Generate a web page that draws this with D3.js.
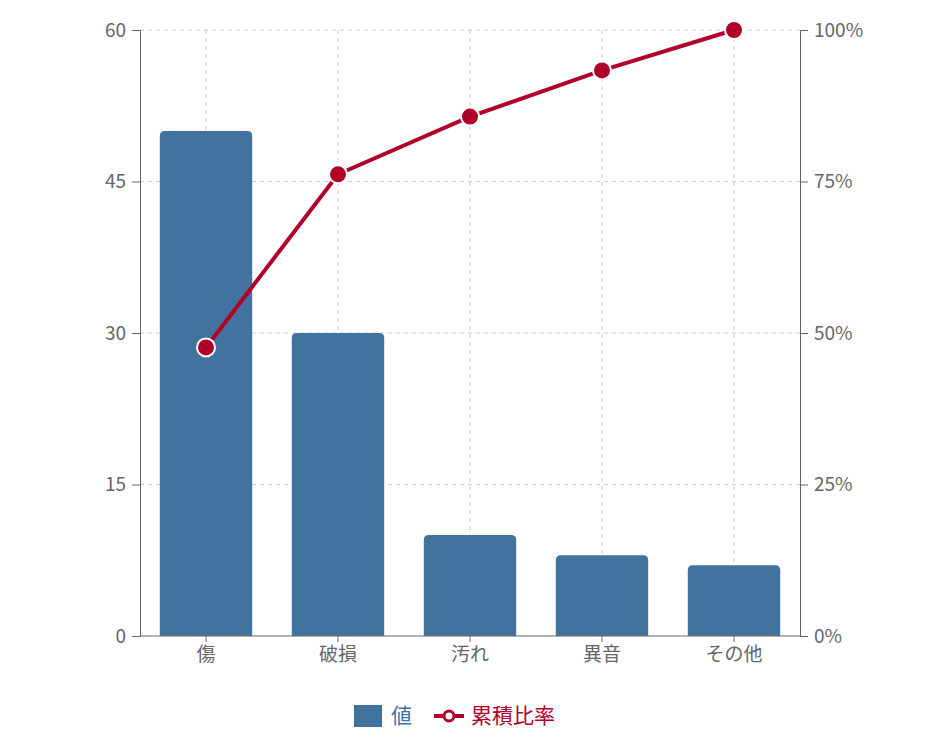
<!DOCTYPE html>
<html><head><meta charset="utf-8">
<script src="https://cdn.jsdelivr.net/npm/d3@7"></script>
<style>body{margin:0;background:#fff;font-family:"Noto Sans CJK JP","Noto Sans",sans-serif}</style>
</head><body><svg id="c" width="940" height="752"></svg>
<script>
var categories = ['傷','破損','汚れ','異音','その他'];
var values = [50, 30, 10, 8, 7];
var leftTicks = [0, 15, 30, 45, 60];
var rightTicks = [0, 25, 50, 75, 100];

var total = d3.sum(values), run = 0;
var cumulative = values.map(function(v){ run += v; return run / total * 100; });

var m = {l:140, r:800, t:30, b:636};
var svg = d3.select('#c');
var x = d3.scaleBand().domain(categories).range([m.l, m.r]).paddingInner(0.3).paddingOuter(0.15);
var y = d3.scaleLinear().domain([0, 60]).range([m.b, m.t]);
var y2 = d3.scaleLinear().domain([0, 100]).range([m.b, m.t]);
var barCol = '#41739e', lineCol = '#b0002a', axCol = '#666';

// grid
svg.append('g').selectAll('line').data(leftTicks.slice(1)).enter().append('line')
  .attr('x1', m.l).attr('x2', m.r).attr('y1', d => y(d)).attr('y2', d => y(d))
  .attr('stroke', '#ccc').attr('stroke-dasharray', '4,4');
svg.append('g').selectAll('line').data(categories).enter().append('line')
  .attr('x1', d => x(d) + x.bandwidth()/2).attr('x2', d => x(d) + x.bandwidth()/2)
  .attr('y1', m.t).attr('y2', m.b)
  .attr('stroke', '#ccc').attr('stroke-dasharray', '4,4');

// bars with rounded tops
var r = 5;
svg.append('g').selectAll('path').data(values).enter().append('path')
  .attr('fill', barCol)
  .attr('d', function(d, i){
    var x0 = x(categories[i]), w = x.bandwidth(), yt = y(d), yb = y(0);
    return 'M'+x0+','+yb+'V'+(yt+r)+'Q'+x0+','+yt+' '+(x0+r)+','+yt+'H'+(x0+w-r)+
      'Q'+(x0+w)+','+yt+' '+(x0+w)+','+(yt+r)+'V'+yb+'Z';
  });

// axes
function style(g){
  g.selectAll('path,line').attr('stroke', axCol);
  g.selectAll('text').attr('fill', '#666').style('font-size', '19px')
    .style('font-family', '"Noto Sans CJK JP","Noto Sans",sans-serif');
}
svg.append('g').attr('transform', 'translate('+m.l+',0)')
  .call(d3.axisLeft(y).tickValues(leftTicks).tickSize(8).tickPadding(6)).call(style);
svg.append('g').attr('transform', 'translate('+m.r+',0)')
  .call(d3.axisRight(y2).tickValues(rightTicks).tickSize(8).tickPadding(6).tickFormat(d => d + '%')).call(style);
svg.append('g').attr('transform', 'translate(0,'+m.b+')')
  .call(d3.axisBottom(x).tickSize(6).tickPadding(6)).call(style)
  .selectAll('.domain').attr('d', 'M'+m.l+',0H'+m.r);

// line
var line = d3.line().x((d, i) => x(categories[i]) + x.bandwidth()/2).y(d => y2(d));
svg.append('path').datum(cumulative).attr('d', line)
  .attr('fill', 'none').attr('stroke', lineCol).attr('stroke-width', 4);
svg.append('g').selectAll('circle').data(cumulative).enter().append('circle')
  .attr('cx', (d, i) => x(categories[i]) + x.bandwidth()/2).attr('cy', d => y2(d))
  .attr('r', 9).attr('fill', lineCol).attr('stroke', '#fff').attr('stroke-width', 2);

// legend
var lg = svg.append('g').attr('transform', 'translate(354,715)');
lg.append('rect').attr('x', 0).attr('y', -10).attr('width', 28).attr('height', 22).attr('fill', barCol);
lg.append('text').attr('x', 37).attr('y', 8).attr('fill', barCol).style('font-size', '21px').text('値');
lg.append('line').attr('x1', 80).attr('x2', 110).attr('y1', 1).attr('y2', 1).attr('stroke', lineCol).attr('stroke-width', 4);
lg.append('circle').attr('cx', 95).attr('cy', 1).attr('r', 5).attr('fill', '#fff').attr('stroke', lineCol).attr('stroke-width', 3);
lg.append('text').attr('x', 117).attr('y', 8).attr('fill', lineCol).style('font-size', '21px').text('累積比率');
</script></body></html>
